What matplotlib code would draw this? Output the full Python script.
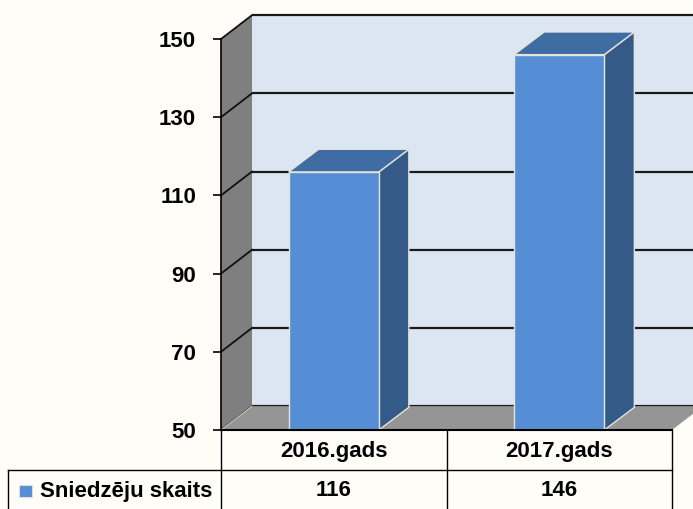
import matplotlib.pyplot as plt
from matplotlib.patches import Polygon, Rectangle

years = ['2016.gads', '2017.gads']
counts = [116, 146]
series_name = 'Sniedzēju skaits'
y_ticks = [50, 70, 90, 110, 130, 150]

plt.rcParams['font.family'] = ['Liberation Sans', 'DejaVu Sans']
plt.rcParams['font.weight'] = 'bold'
plt.rcParams['font.size'] = 16

bg = '#FEFDF8'
front_col = '#558ED5'
top_col = '#3F6CA2'
side_col = '#345A88'
edge_col = '#E4E4DA'

# depth of walls / bars in data units
wdx, wdy = 0.1375, 6.1
bdx, bdy = 0.133, 5.8
bw = 0.4
y0, y1 = y_ticks[0], y_ticks[-1]


def main():
    fig = plt.figure(figsize=(6.93, 5.09), dpi=100, facecolor=bg)
    ax = fig.add_axes([221 / 693, 79 / 509, 451 / 693, 391 / 509])
    ax.set_xlim(0, 2)
    ax.set_ylim(y0, y1)
    ax.patch.set_visible(False)
    xs = [i + 0.5 for i in range(len(years))]
    n = len(years)

    # back wall
    ax.add_patch(Rectangle((wdx, y0 + wdy), n + 0.3, y1 - y0, facecolor='#DCE6F2',
                           edgecolor='none', zorder=1, clip_on=False))
    # side wall
    ax.add_patch(Polygon([(0, y0), (0, y1), (wdx, y1 + wdy), (wdx, y0 + wdy)],
                         facecolor='#7F7F7F', edgecolor='none', zorder=1.2, clip_on=False))
    # gridlines
    for v in y_ticks:
        ax.plot([wdx, n + 0.4], [v + wdy, v + wdy], color='#1a1a1a', lw=1.6,
                zorder=1.1, clip_on=False, solid_capstyle='butt')
        ax.plot([0, wdx], [v, v + wdy], color='#111111', lw=1.3, zorder=1.3, clip_on=False)
    # floor
    ax.add_patch(Polygon([(0, y0), (n, y0), (n + wdx, y0 + wdy), (wdx, y0 + wdy)],
                         facecolor='#959595', edgecolor='none', zorder=1.4, clip_on=False))
    ax.plot([0, wdx], [y0, y0 + wdy], color='#c8c8c8', lw=0.8, zorder=1.45, clip_on=False)

    # bars
    for x, v in zip(xs, counts):
        xl, xr = x - bw / 2, x + bw / 2
        ax.add_patch(Polygon([(xr, y0), (xr, v), (xr + bdx, v + bdy), (xr + bdx, y0 + bdy)],
                             facecolor=side_col, edgecolor=edge_col, lw=1, zorder=2, clip_on=False))
        ax.add_patch(Polygon([(xl, v), (xr, v), (xr + bdx, v + bdy), (xl + bdx, v + bdy)],
                             facecolor=top_col, edgecolor=edge_col, lw=1, zorder=2, clip_on=False))
    ax.bar(xs, [v - y0 for v in counts], bottom=y0, width=bw, color=front_col,
           edgecolor=edge_col, lw=1, zorder=2.1, clip_on=False)

    # axes
    for s in ['top', 'right']:
        ax.spines[s].set_visible(False)
    ax.spines['left'].set_linewidth(1.2)
    ax.spines['bottom'].set_linewidth(1.5)
    ax.spines['left'].set_zorder(3)
    ax.spines['bottom'].set_zorder(3)
    ax.set_yticks(y_ticks)
    ax.tick_params(axis='y', length=6, width=1.2, pad=12, labelsize=16)
    ax.set_xticks([])

    # data table
    row1 = 50 - 40 / 3.91
    bot = 28
    xleft = -213 / 225.5
    lk = dict(color='black', lw=1, clip_on=False, zorder=3)
    ax.plot([xleft, n], [row1, row1], **lk)
    for xv in [0, 1, 2]:
        ax.plot([xv, xv], [y0, bot], **lk)
    ax.plot([xleft, xleft], [row1, bot], **lk)
    for x, yr, v in zip(xs, years, counts):
        ax.text(x, 50 - 22 / 3.91, yr, ha='center', va='center', fontsize=16,
                fontweight='bold', clip_on=False)
        ax.text(x, 50 - 61 / 3.91, str(v), ha='center', va='center', fontsize=16,
                fontweight='bold', clip_on=False)
    ax.add_patch(Rectangle((-202 / 225.5, 50 - 67 / 3.91), 13 / 225.5, 12 / 3.91,
                           facecolor=front_col, edgecolor='#dddddd', lw=0.8, clip_on=False))
    ax.text(-181 / 225.5, 50 - 61 / 3.91, series_name, ha='left', va='center',
            fontsize=16, fontweight='bold', clip_on=False)

    fig.savefig('out.png', dpi=100, facecolor=bg)


if __name__ == "__main__":
    main()
